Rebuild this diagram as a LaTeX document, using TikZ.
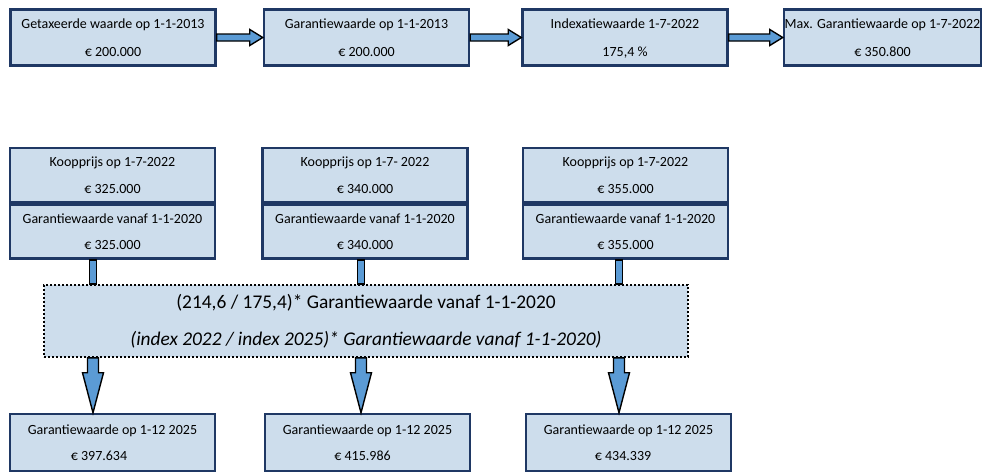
\documentclass[tikz,border=0pt]{standalone}
\usepackage{fontspec}
\setmainfont{Carlito}
\usetikzlibrary{calc,positioning}

\definecolor{boxfill}{RGB}{205,221,236}
\definecolor{boxline}{RGB}{31,56,100}
\definecolor{pijlblauw}{RGB}{91,155,213}

\tikzset{
  box/.style={draw=boxline, line width=2.5pt, fill=boxfill, minimum width=205pt,
    minimum height=56pt, inner sep=0pt, align=center, font=\fontsize{14}{16.5}\selectfont,
    text depth=0pt, execute at begin node={\rule{0pt}{19pt}}},
  formule/.style={draw=black, line width=1.8pt, dash pattern=on 1.8pt off 2.2pt, fill=boxfill,
    minimum width=644pt, minimum height=72pt, inner sep=0pt, align=center,
    font=\fontsize{19.4}{23}\selectfont, execute at begin node={\rule{0pt}{30pt}}},
  rpijl/.style={draw=black, line width=1.4pt, fill=pijlblauw, line join=miter, to path={
      ($(\tikztostart)+(0,-3.5)$) -- ($(\tikztotarget)+(-13,-3.5)$) -- ($(\tikztotarget)+(-13,-8)$)
      -- (\tikztotarget) -- ($(\tikztotarget)+(-13,8)$) -- ($(\tikztotarget)+(-13,3.5)$)
      -- ($(\tikztostart)+(0,3.5)$) -- cycle}},
  dpijl/.style={draw=black, line width=1.4pt, fill=pijlblauw, line join=miter, to path={
      ($(\tikztostart)+(-5.5,0)$) -- ($(\tikztotarget)+(-5.5,-40)$) -- ($(\tikztotarget)+(-10.5,-40)$)
      -- (\tikztotarget) -- ($(\tikztotarget)+(10.5,-40)$) -- ($(\tikztotarget)+(5.5,-40)$)
      -- ($(\tikztostart)+(5.5,0)$) -- cycle}},
  stub/.style={draw=black, line width=1.6pt, fill=pijlblauw, to path={
      ($(\tikztostart)+(-3.5,0)$) rectangle ($(\tikztotarget)+(3.5,0)$)}},
}

\begin{document}
\begin{tikzpicture}[x=1pt,y=-1pt]
\useasboundingbox (0,0) rectangle (985,474);

% bovenste rij
\node[box] (getax) at (113,37.5) {Getaxeerde waarde op 1-1-2013\\[11pt]€ 200.000};
\node[box] (gar2013) at (366.5,37.5) {Garantiewaarde op 1-1-2013\\[11pt]€ 200.000};
\node[box] (index) at (625,37.5) {Indexatiewaarde 1-7-2022\\[11pt]175,4 \%};
\node[box, minimum width=197pt] (maxgar) at (882.5,37.5) {Max. Garantiewaarde op 1-7-2022\\[11pt]€ 350.800};

\draw[rpijl] (getax.east) to (gar2013.west);
\draw[rpijl] (gar2013.east) to (index.west);
\draw[rpijl] (index.east) to (maxgar.west);

% koopprijzen
\node[box, minimum height=54pt] (koop1) at (112.5,175) {Koopprijs op 1-7-2022\\[11pt]€ 325.000};
\node[box, minimum height=54pt, below=0pt of koop1] (gw1) {Garantiewaarde vanaf 1-1-2020\\[9pt]€ 325.000};
\node[box, minimum height=54pt] (koop2) at (365,175) {Koopprijs op 1-7- 2022\\[11pt]€ 340.000};
\node[box, minimum height=54pt, below=0pt of koop2] (gw2) {Garantiewaarde vanaf 1-1-2020\\[9pt]€ 340.000};
\node[box, minimum height=54pt] (koop3) at (625.5,175) {Koopprijs op 1-7-2022\\[11pt]€ 355.000};
\node[box, minimum height=54pt, below=0pt of koop3] (gw3) {Garantiewaarde vanaf 1-1-2020\\[9pt]€ 355.000};

% formule
\node[formule] (form) at (366,321) {(214,6 / 175,4)* Garantiewaarde vanaf 1-1-2020\\[14pt]
  \textit{(index 2022 / index 2025)* Garantiewaarde vanaf 1-1-2020)}};

% resultaten
\node[box, minimum height=57pt] (res1) at (112.5,442.5) {Garantiewaarde op 1-12 2025\\[9pt]\hspace*{-27pt}€ 397.634};
\node[box, minimum height=57pt] (res2) at (367.5,442.5) {Garantiewaarde op 1-12 2025\\[9pt]\hspace*{-10pt}€ 415.986};
\node[box, minimum height=57pt] (res3) at (628.5,442.5) {Garantiewaarde op 1-12 2025\\[9pt]\hspace*{-11pt}€ 434.339};

\coordinate (k1) at (93,0);
\coordinate (k2) at (361,0);
\coordinate (k3) at (619,0);

\foreach \i in {1,2,3} {
  \draw[stub] (gw\i.south -| k\i) to (form.north -| k\i);
  \draw[dpijl] (form.south -| k\i) to (res\i.north -| k\i);
}

\end{tikzpicture}
\end{document}
